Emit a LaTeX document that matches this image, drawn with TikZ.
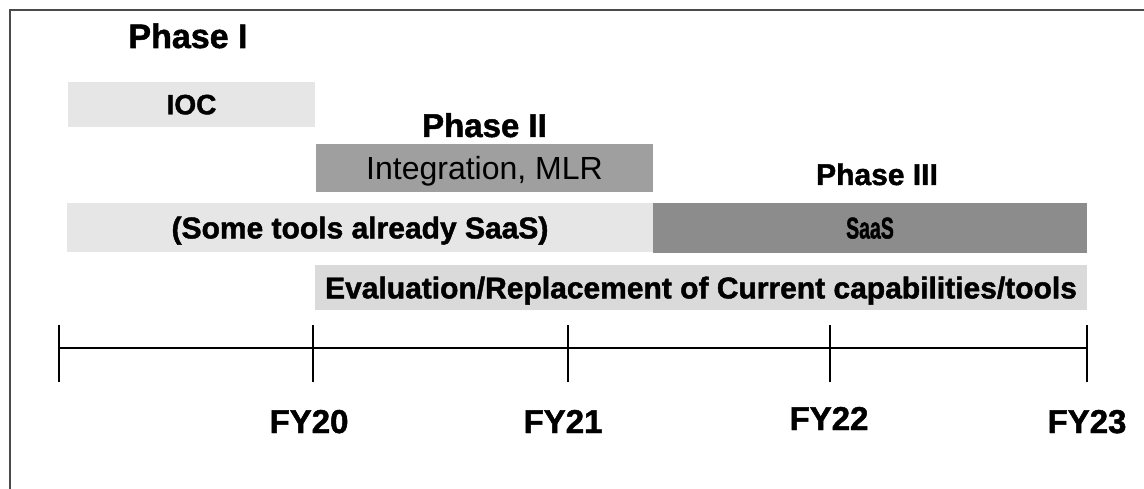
\documentclass[tikz,border=0pt]{standalone}
\usepackage{graphicx}
\usepackage{fontspec}
\setmainfont{Liberation Sans}[BoldFeatures={FakeBold=1.5}]

\definecolor{framecol}{HTML}{4A4A4A}
\definecolor{barlight}{HTML}{E6E6E6}
\definecolor{barpale}{HTML}{DADADA}
\definecolor{barmid}{HTML}{9F9F9F}
\definecolor{bardark}{HTML}{8C8C8C}

\tikzset{
    lightbar/.style={fill=barlight, inner sep=0pt, text depth=0pt},
    palebar/.style={fill=barpale, inner sep=0pt, text depth=0pt},
    midbar/.style={fill=barmid, inner sep=0pt, text depth=0pt},
    darkbar/.style={fill=bardark, inner sep=0pt, text depth=0pt},
    phaselabel/.style={anchor=base, font=\fontsize{32}{38}\selectfont\bfseries},
    yearlabel/.style={anchor=base, font=\fontsize{33}{40}\selectfont\bfseries},
}

\begin{document}
\begin{tikzpicture}[x=1pt, y=-1pt]
    \useasboundingbox (0,0) rectangle (1144,489);
    % Cadre
    \draw[framecol, line width=1.5pt] (10,489) -- (10,10) -- (1144,10);

    % Phase I
    \node[phaselabel, font=\fontsize{34}{40}\selectfont\bfseries] (phase1) at (188,48) {Phase I};
    \node[lightbar, minimum width=247pt, minimum height=45pt,
          font=\fontsize{28}{34}\selectfont\bfseries] (ioc) at (191.5,104.5) {IOC};

    % Phase II
    \node[phaselabel, font=\fontsize{33}{40}\selectfont\bfseries] (phase2) at (484.5,137) {Phase II};
    \node[midbar, minimum width=337pt, minimum height=48pt,
          font=\fontsize{32}{38}\selectfont] (integ) at (484.5,168) {Integration, MLR};

    % Phase III
    \node[lightbar, minimum width=586pt, minimum height=49pt,
          font=\fontsize{30}{36}\selectfont\bfseries] (sometools) at (360,227.5) {(Some tools already SaaS)};
    \node[phaselabel, font=\fontsize{30}{36}\selectfont\bfseries] (phase3) at (877,185) {Phase III};
    \node[darkbar, minimum width=434pt, minimum height=50pt,
          font=\fontsize{30}{36}\selectfont\bfseries] (saas) at (870,228) {\scalebox{0.65}[1]{SaaS}};

    % Evaluation
    \node[palebar, minimum width=772pt, minimum height=45pt,
          font=\fontsize{30}{36}\selectfont\bfseries] (eval) at (701,287.5)
          {Evaluation/Replacement of Current capabilities/tools};

    % Axe du temps
    \draw[line width=2pt] (59,348) -- (1087,348);
    \foreach \x in {59, 313, 568, 830, 1087} {
        \draw[line width=2.5pt] (\x,325) -- (\x,382);
    }

    % Annees
    \foreach \x/\lab/\yb in {309/FY20/433, 563/FY21/433, 829/FY22/430, 1087/FY23/433} {
        \node[yearlabel] (\lab) at (\x,\yb) {\lab};
    }
\end{tikzpicture}
\end{document}
